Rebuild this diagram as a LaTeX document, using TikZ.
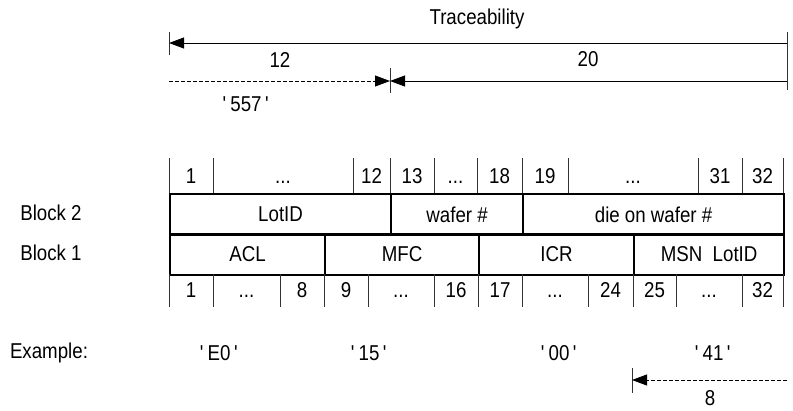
\documentclass[tikz,border=0pt]{standalone}
\usepackage{fontspec}
\setmainfont{Liberation Sans}[FakeStretch=0.87]
\usetikzlibrary{arrows.meta}
\newcommand{\quoted}[1]{\textquotesingle\,#1\,\textquotesingle}
\newcommand{\bitdots}{...}

\begin{document}
\begin{tikzpicture}[x=1pt,y=-1pt,
    every node/.style={font=\fontsize{21.5}{24}\selectfont, inner sep=0pt},
    bitnum/.style={text height=15.4pt, text depth=0pt},
    field/.style={draw, line width=2.2pt, minimum height=40.5pt, anchor=north west},
    tick/.style={line width=0.9pt, black!80},
    dimline/.style={line width=0.8pt},
    tip/.style={-{Triangle[length=15pt,width=11pt]}}]
    \useasboundingbox (0,0) rectangle (793,410);

    % traceability arrows
    \node (trace) at (477,19) {Traceability};
    \coordinate (trL) at (169,43);
    \coordinate (trR) at (787,43);
    \coordinate (lotL) at (169,81);
    \coordinate (lotR) at (390,81);
    \coordinate (serR) at (787,81);
    \draw [tick] (169,32) -- (169,55);
    \draw [tick] (390,68) -- (390,93);
    \draw [tick] (787,32) -- (787,90);
    \draw [dimline,tip,{Triangle[length=15pt,width=11pt]}-] (trL) -- (trR);
    \draw [dimline,tip,dash pattern=on 4pt off 2pt] (lotL) -- (lotR);
    \draw [dimline,tip,{Triangle[length=15pt,width=11pt]}-] (lotR) -- (serR);
    \node (lotlen) at (280,60) {12};
    \node (serlen) at (588,59) {20};
    \node (code) at (246,104) {\quoted{557}};

    % bit numbers, block 2
    \foreach \x in {169,213,353,390,434,477,522,568,698,742,783}
        \draw [tick] (\x,158) -- (\x,193);
    \foreach \x/\t [count=\i] in {191/1,283/\bitdots,371.5/12,412/13,455.5/\bitdots,499.5/18,
        545/19,633/\bitdots,720/31,762.5/32}
        \node [bitnum] (top\i) at (\x,176) {\t};

    % blocks
    \node (blk2) at (51,213) {Block 2};
    \node (blk1) at (51,253) {Block 1};
    \node [field, minimum width=221pt] (lotid) at (169,193) {LotID};
    \node [field, minimum width=132pt] (wafer) at (390,193) {wafer \#};
    \node [field, minimum width=261pt] (die) at (522,193) {die on wafer \#};
    \node [field, minimum width=155pt] (acl) at (169,233) {ACL};
    \node [field, minimum width=154pt] (mfc) at (324,233) {MFC};
    \node [field, minimum width=155pt] (icr) at (478,233) {ICR};
    \node [field, minimum width=150pt] (msn) at (633,233) {MSN\ \ LotID};

    % bit numbers, block 1
    \foreach \x in {169,213,280,324,368,434,478,522,588,633,676,742,783}
        \draw [tick] (\x,274) -- (\x,307);
    \foreach \x/\t [count=\i] in {191/1,246.5/\bitdots,302/8,346/9,401/\bitdots,456/16,
        500/17,555/\bitdots,610.5/24,654.5/25,709/\bitdots,762.5/32}
        \node [bitnum] (bot\i) at (\x,290) {\t};

    % example
    \node (example) at (49,353) {Example:};
    \node (exacl) at (219,353) {\quoted{E0}};
    \node (exmfc) at (369,353) {\quoted{15}};
    \node (exicr) at (559,353) {\quoted{00}};
    \node (exmsn) at (713,353) {\quoted{41}};
    \coordinate (msnL) at (632,380);
    \coordinate (msnR) at (787,380);
    \draw [tick] (632,368) -- (632,393);
    \draw [dimline,tip,dash pattern=on 4pt off 2pt] (msnR) -- (msnL);
    \node (msnlen) at (710,398) {8};

\end{tikzpicture}
\end{document}
